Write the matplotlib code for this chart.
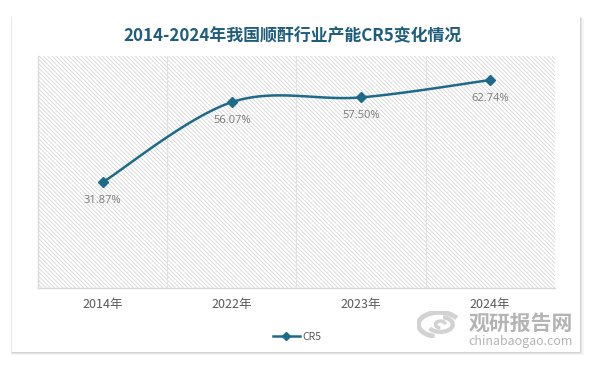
import numpy as np
import matplotlib
matplotlib.use('Agg')
import matplotlib.pyplot as plt
from matplotlib.patches import Rectangle, Arc
from matplotlib.lines import Line2D

plt.rcParams['font.family'] = ['Noto Sans CJK SC', 'DejaVu Sans']

TITLE = '2014-2024年我国顺酐行业产能CR5变化情况'
years = ['2014年', '2022年', '2023年', '2024年']
cr5 = [31.87, 56.07, 57.50, 62.74]
series_name = 'CR5'

LINE_COLOR = '#1e6a8a'
TITLE_COLOR = '#1f5d7d'
LABEL_GRAY = '#7a7a7a'
TICK_GRAY = '#595959'
MARK_GRAY = '#b4b4b4'


def smoothCurve(ax, xs, ys, steps=40):
    """
    Catmull-Rom style bezier through the points, worked out in pixel space
    like a spreadsheet 'smoothed line', then mapped back to data coords.
    """
    pts = ax.transData.transform(np.column_stack([xs, ys]))
    n = len(pts)
    out = []
    for i in range(n - 1):
        p0 = pts[max(i - 1, 0)]
        p1 = pts[i]
        p2 = pts[i + 1]
        p3 = pts[min(i + 2, n - 1)]
        c1 = p1 + (p2 - p0) / 6.0
        c2 = p2 - (p3 - p1) / 6.0
        t = np.linspace(0, 1, steps)[:, None]
        seg = ((1 - t) ** 3) * p1 + 3 * ((1 - t) ** 2) * t * c1 + 3 * (1 - t) * t ** 2 * c2 + t ** 3 * p2
        out.append(seg if i == 0 else seg[1:])
    out = np.vstack(out)
    data = ax.transData.inverted().transform(out)
    return data[:, 0], data[:, 1]


fig = plt.figure(figsize=(5.94, 3.66), dpi=100)
fig.patch.set_facecolor('white')

# card with a soft shadow
for k, a in enumerate([0.04, 0.06, 0.08]):
    off = (3 - k) / 594.0
    fig.patches.append(Rectangle((0.0202 - off * 0.3, 0.038 - off * 1.6), 0.956 + off * 1.6, 0.918 + off * 0.6,
                                 transform=fig.transFigure, facecolor='black', alpha=a,
                                 edgecolor='none', zorder=0))
fig.patches.append(Rectangle((0.0202, 0.038), 0.956, 0.918, transform=fig.transFigure,
                             facecolor='white', edgecolor='none', zorder=1))

ax = fig.add_axes([0.064, 0.2131, 0.870, 0.634])
ax.set_zorder(2)
ax.set_xlim(-0.5, len(years) - 0.5)
ax.set_ylim(0, 70)
ax.patch.set_alpha(0)

# hatched plot background
plt.rcParams['hatch.linewidth'] = 0.5
ax.add_patch(Rectangle((0, 0), 1, 1, transform=ax.transAxes, facecolor='white',
                       edgecolor='#cfcfcf', hatch='\\' * 8, linewidth=0, zorder=0))

x = np.arange(len(years))
ax.set_xticks(x)
ax.set_xticklabels(years, fontsize=9, color=TICK_GRAY)
ax.set_xticks(np.arange(len(years) - 1) + 0.5, minor=True)
ax.grid(True, which='minor', axis='x', color='#e2e2e2', linewidth=0.8)
ax.tick_params(axis='x', which='both', length=0, pad=7)
ax.set_yticks([])
for s in ['top', 'right']:
    ax.spines[s].set_visible(False)
for s in ['left', 'bottom']:
    ax.spines[s].set_color('#d9d9d9')
    ax.spines[s].set_linewidth(1.0)

sx, sy = smoothCurve(ax, x, cr5)
ax.plot(sx, sy, color=LINE_COLOR, linewidth=1.8, zorder=3, solid_capstyle='round')
ax.plot(x, cr5, linestyle='none', marker='D', markersize=5, color=LINE_COLOR, zorder=4)

for xi, v in zip(x, cr5):
    ax.annotate('%.2f%%' % v, (xi, v), xytext=(0, -13), textcoords='offset points',
                ha='center', va='center', fontsize=8, color=LABEL_GRAY, family='Open Sans')

fig.text(0.493, 0.9016, TITLE, ha='center', va='center', fontsize=12.2, fontweight='bold',
         color=TITLE_COLOR, zorder=3)

handle = Line2D([], [], color=LINE_COLOR, linewidth=1.8, marker='D', markersize=4)
fig.legend([handle], [series_name], loc='center', bbox_to_anchor=(0.5, 0.079), frameon=False,
           fontsize=7.5, labelcolor=TICK_GRAY, handlelength=2.6, handletextpad=0.2)

# watermark
fig.text(0.876, 0.117, '观研报告网', ha='center', va='center', fontsize=15, fontweight='heavy',
         color=MARK_GRAY, zorder=3)
fig.text(0.8765, 0.068, 'chinabaogao.com', ha='center', va='center', fontsize=9,
         color=MARK_GRAY, zorder=3)
logo = fig.add_axes([417 / 594, 1 - 338 / 366, 44 / 594, 27 / 366])
logo.set_zorder(3)
logo.set_xlim(-1.6, 1.6)
logo.set_ylim(-1.0, 1.0)
logo.axis('off')
logo.add_patch(Arc((0, 0), 3.0, 1.8, theta1=20, theta2=250, color='#d2d2d2', linewidth=3.5))
logo.add_patch(Arc((0.1, 0), 1.8, 1.1, theta1=200, theta2=70, color='#d2d2d2', linewidth=3))
logo.add_patch(Arc((0.1, 0), 0.7, 0.5, theta1=0, theta2=270, color='#d2d2d2', linewidth=2.5))

fig.savefig('out.png', dpi=100, facecolor=fig.get_facecolor())
